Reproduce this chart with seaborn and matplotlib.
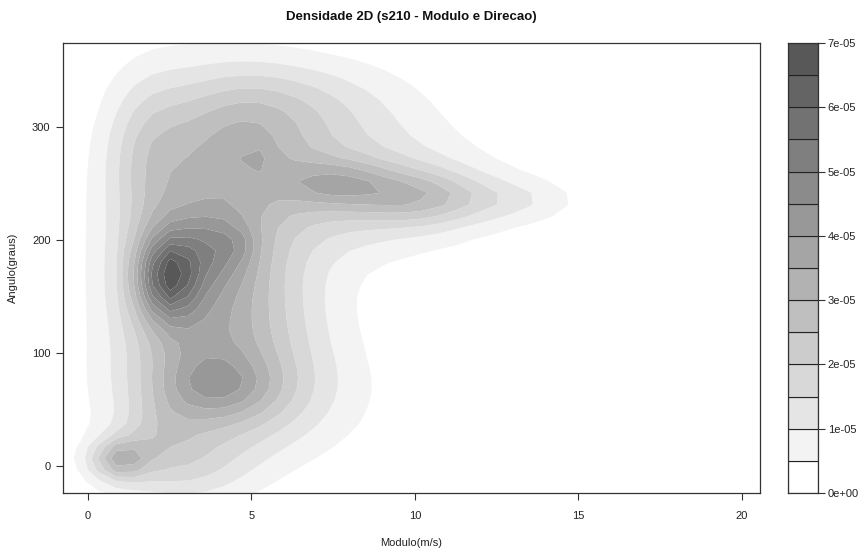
import numpy as np
import matplotlib
matplotlib.use("Agg")
import matplotlib.pyplot as plt
import seaborn as sns

# ---- data: Gaussian components describing the 2D density (peak heights in 5e-6 units) ----
comp_x   = [3.3, 2.4, 2.45, 4.0, 4.6, 5.0, 3.9, 4.8, 0.95, 2.6, 4.8, 5.1, 8.0, 7.6, 10.2, 13.2, 7.0, 1.8, 6.0, 2.2]
comp_y   = [170, 168, 168, 193, 196, 140, 70, 60, 6, -2, 291, 272, 240, 250, 238, 235, 305, 280, 333, 30]
comp_sx  = [1.75, 0.6, 0.8, 0.8, 0.3, 2.0, 1.3, 2.5, 0.6, 1.5, 1.6, 0.3, 3.0, 1.2, 1.4, 1.3, 2.5, 0.9, 2.5, 0.8]
comp_sy  = [95, 25, 32, 22, 9, 60, 20, 40, 13, 22, 35, 10, 36, 15, 17, 14, 32, 45, 28, 20]
comp_amp = [5.2, 5.0, 3.0, 2.5, 0.8, 2.5, 2.6, 2.5, 5.0, 2.0, 2.6, 0.9, 3.3, 3.0, 3.3, 1.4, 1.8, 2.2, 1.2, 1.5]

x_range = [-0.76, 20.55]
y_range = [-24.0, 374.0]
grid_n = 40
levels = np.arange(0, 7.5e-5, 5e-6)
x_ticks = [0, 5, 10, 15, 20]
y_ticks = [0, 100, 200, 300]
cbar_ticks = [0, 1e-5, 2e-5, 3e-5, 4e-5, 5e-5, 6e-5, 7e-5]
cbar_labels = ["0e+00", "1e-05", "2e-05", "3e-05", "4e-05", "5e-05", "6e-05", "7e-05"]
title = "Densidade 2D (s210 - Modulo e Direcao)"
xlabel = "Modulo(m/s)"
ylabel = "Angulo(graus)"

# ---- density grid ----
gx = np.linspace(x_range[0], x_range[1], grid_n)
gy = np.linspace(y_range[0], y_range[1], grid_n)
X, Y = np.meshgrid(gx, gy)
Z = np.zeros_like(X)
for cx, cy, sx, sy, a in zip(comp_x, comp_y, comp_sx, comp_sy, comp_amp):
    Z += a * 5e-6 * np.exp(-0.5 * ((X - cx) / sx) ** 2 - 0.5 * ((Y - cy) / sy) ** 2)
Z = np.clip(Z, 0, levels[-1] - 1e-9)

sns.set_theme(style="ticks")
plt.rcParams["font.family"] = ["Liberation Sans", "DejaVu Sans"]
colors = sns.blend_palette(["#ffffff", "#585858"], len(levels) - 1)

fig = plt.figure(figsize=(8.64, 5.53), dpi=100)
ax = fig.add_axes([63 / 864, 60 / 553, 697 / 864, 450 / 553])
cax = fig.add_axes([788 / 864, 60 / 553, 30 / 864, 450 / 553])

ax.contourf(X, Y, Z, levels=levels, colors=colors, antialiased=True)
ax.set_xlim(*x_range)
ax.set_ylim(*y_range)
ax.set_xticks(x_ticks)
ax.set_yticks(y_ticks)
ax.tick_params(axis="both", length=5, width=0.8, color="#333333", labelsize=8, labelcolor="#222222")
ax.tick_params(axis="x", pad=8)
ax.tick_params(axis="y", pad=4)
for s in ax.spines.values():
    s.set_color("#333333")
    s.set_linewidth(0.9)
ax.set_xlabel(xlabel, fontsize=8, color="#222222", labelpad=12)
ax.set_ylabel(ylabel, fontsize=8, color="#222222", labelpad=10)

# colour key
cax.bar(x=0.5, height=np.diff(levels), bottom=levels[:-1], width=1.0,
        color=colors, edgecolor="#222222", linewidth=0.8, align="center")
cax.set_xlim(0, 1)
cax.set_ylim(levels[0], levels[-1])
cax.set_xticks([])
cax.yaxis.tick_right()
cax.set_yticks(cbar_ticks)
cax.set_yticklabels(cbar_labels)
cax.tick_params(axis="y", length=5, width=0.8, color="#333333", labelsize=8, labelcolor="#222222", pad=2)
for s in cax.spines.values():
    s.set_color("#333333")
    s.set_linewidth(0.9)

fig.text(411 / 864, 1 - 17 / 553, title, ha="center", va="center", fontsize=9.5, fontweight="bold", color="#111111")

fig.savefig("out.png", dpi=100)
